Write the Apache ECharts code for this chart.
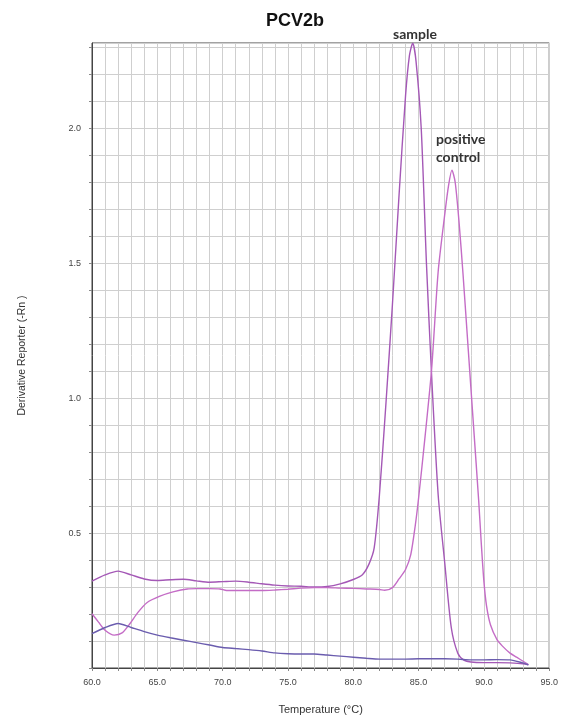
<!DOCTYPE html>
<html>
<head>
<meta charset="utf-8">
<script src="https://cdn.jsdelivr.net/npm/echarts@6/dist/echarts.min.js"></script>
<style>
html,body{margin:0;padding:0;background:#fff;}
#chart{width:561px;height:720px;}
</style>
</head>
<body>
<div id="chart"></div>
<script>
// Sample curve
var sampleT = [60, 61, 62, 63, 64, 65, 66, 67, 68, 69, 70, 71, 72, 73, 74, 75, 76, 77, 78, 79, 80, 80.7, 81.2, 81.6, 82, 82.5, 83, 83.5, 84, 84.3, 84.55, 84.8, 85.2, 85.6, 86, 86.5, 87, 87.5, 88, 88.5, 89, 90, 91, 92, 93, 93.4];
var sampleV = [0.322, 0.345, 0.359, 0.345, 0.33, 0.324, 0.327, 0.329, 0.323, 0.318, 0.32, 0.322, 0.318, 0.312, 0.307, 0.304, 0.303, 0.300, 0.302, 0.312, 0.328, 0.346, 0.385, 0.445, 0.64, 0.98, 1.35, 1.75, 2.12, 2.27, 2.315, 2.25, 2.0, 1.5, 1.08, 0.64, 0.39, 0.15, 0.055, 0.028, 0.022, 0.02, 0.02, 0.019, 0.016, 0.012];
// Positive control curve
var controlT = [60, 60.5, 61, 61.7, 62.3, 62.9, 63.5, 64.2, 65.2, 66.2, 67.3, 68, 69, 69.8, 70.3, 71, 72, 73, 74, 75, 76, 77, 78, 79, 80, 81, 82, 82.4, 83, 83.5, 84, 84.4, 84.75, 85, 85.5, 86, 86.5, 87, 87.3, 87.55, 87.8, 88.1, 88.4, 88.8, 89.2, 89.6, 89.8, 90, 90.2, 90.5, 91, 91.4, 92, 92.5, 93, 93.4];
var controlV = [0.201, 0.17, 0.14, 0.122, 0.13, 0.164, 0.205, 0.242, 0.266, 0.282, 0.293, 0.294, 0.294, 0.293, 0.287, 0.287, 0.287, 0.287, 0.289, 0.292, 0.296, 0.298, 0.298, 0.296, 0.295, 0.293, 0.291, 0.288, 0.298, 0.33, 0.365, 0.42, 0.53, 0.63, 0.86, 1.11, 1.47, 1.68, 1.79, 1.845, 1.8, 1.65, 1.46, 1.18, 0.9, 0.62, 0.46, 0.32, 0.23, 0.16, 0.105, 0.082, 0.055, 0.04, 0.025, 0.013];
// Baseline (blue) curve
var baseT = [60, 61, 62, 63, 64, 65, 66, 67, 68, 69, 70, 71, 72, 73, 74, 75, 76, 77, 78, 79, 80, 81, 82, 83, 84, 85, 86, 87, 88, 89, 90, 91, 92, 92.9, 93.4];
var baseV = [0.127, 0.15, 0.165, 0.15, 0.135, 0.122, 0.112, 0.103, 0.094, 0.085, 0.076, 0.072, 0.068, 0.063, 0.056, 0.053, 0.052, 0.052, 0.048, 0.044, 0.04, 0.036, 0.033, 0.033, 0.033, 0.034, 0.034, 0.034, 0.033, 0.03, 0.03, 0.031, 0.03, 0.02, 0.012];

function pairs(t, v) { return t.map(function (x, i) { return [x, v[i]]; }); }

var chart = echarts.init(document.getElementById('chart'));
chart.setOption({
  animation: false,
  backgroundColor: '#ffffff',
  grid: { left: 92, right: 10, top: 43, bottom: 49, show: true, borderColor: '#444', borderWidth: 1 },
  xAxis: {
    type: 'value', min: 60, max: 95, interval: 1,
    name: 'Temperature (°C)', nameLocation: 'middle', nameGap: 36,
    nameTextStyle: { fontFamily: 'Liberation Sans, Arial, sans-serif', fontSize: 11, color: '#333' },
    axisLine: { show: true, onZero: false, lineStyle: { color: '#444', width: 1 } },
    axisTick: { show: true, length: 3, lineStyle: { color: '#888' } },
    axisLabel: {
      margin: 10, fontSize: 9, color: '#444', fontFamily: 'Liberation Sans, Arial, sans-serif',
      formatter: function (v) { return (Math.abs(v % 5) < 1e-6) ? v.toFixed(1) : ''; }
    },
    splitLine: { show: true, lineStyle: { color: '#cfcfcf', width: 1 } }
  },
  yAxis: {
    type: 'value', min: 0, max: 2.316, interval: 0.1,
    name: 'Derivative Reporter (-Rn )', nameLocation: 'middle', nameGap: 64,
    nameTextStyle: { fontFamily: 'Liberation Sans, Arial, sans-serif', fontSize: 10.5, color: '#333' },
    axisLine: { show: true, lineStyle: { color: '#444', width: 1 } },
    axisTick: { show: true, length: 3, lineStyle: { color: '#888' } },
    axisLabel: {
      margin: 11, fontSize: 9, color: '#444', fontFamily: 'Liberation Sans, Arial, sans-serif',
      showMaxLabel: false,
      formatter: function (v) {
        var d = v * 2;
        return (v > 0.01 && Math.abs(d - Math.round(d)) < 1e-6) ? v.toFixed(1) : '';
      }
    },
    splitLine: { show: true, lineStyle: { color: '#cfcfcf', width: 1 } }
  },
  series: [
    { name: 'sample', type: 'line', data: pairs(sampleT, sampleV), showSymbol: false, smooth: 0.25,
      lineStyle: { color: '#a458b6', width: 1.4 }, z: 3 },
    { name: 'positive control', type: 'line', data: pairs(controlT, controlV), showSymbol: false, smooth: 0.25,
      lineStyle: { color: '#c46cc6', width: 1.4 }, z: 3 },
    { name: 'baseline', type: 'line', data: pairs(baseT, baseV), showSymbol: false, smooth: 0.25,
      lineStyle: { color: '#6a5cae', width: 1.4 }, z: 3 }
  ],
  graphic: [
    { type: 'text', left: 266, top: 12, z: 10,
      style: { text: 'PCV2b', fontFamily: 'Liberation Sans, Arial, sans-serif', fontSize: 18, fontWeight: 'bold', fill: '#111' } },
    { type: 'text', left: 393, top: 27, z: 10,
      style: { text: 'sample', fontFamily: 'Lato, Open Sans, sans-serif', fontSize: 14, fontWeight: 'bold', fill: '#333' } },
    { type: 'text', left: 436, top: 130, z: 10,
      style: { text: 'positive\ncontrol', fontFamily: 'Lato, Open Sans, sans-serif', fontSize: 14, fontWeight: 'bold', lineHeight: 18, fill: '#333' } }
  ]
});
</script>
</body>
</html>
